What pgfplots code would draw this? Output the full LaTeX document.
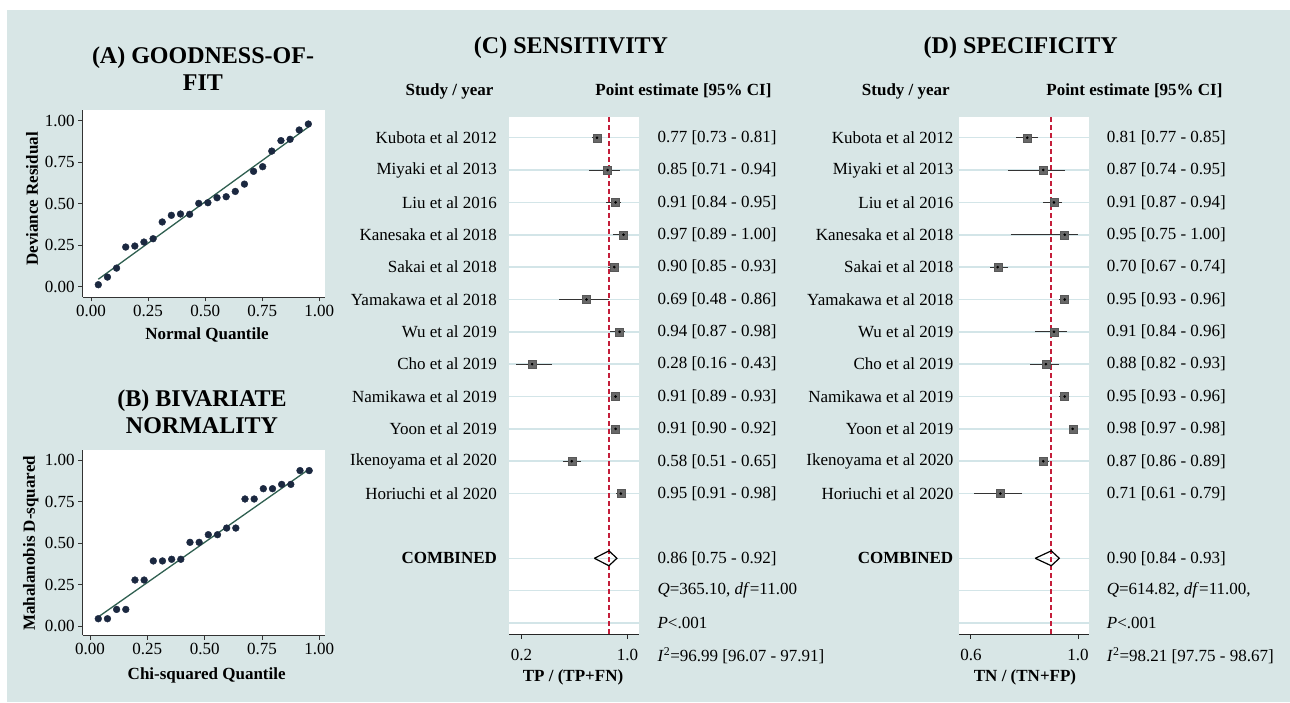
\documentclass[border=0pt]{standalone}
\usepackage{pgfplots}
\pgfplotsset{compat=1.18}
\usepackage{pgfplotstable}
\usepackage{fontspec}
\setmainfont{Liberation Serif}

\definecolor{panelbg}{HTML}{D8E6E6}
\definecolor{navy}{HTML}{1B2840}
\definecolor{fitgreen}{HTML}{2F5F50}
\definecolor{rowgrid}{HTML}{D3E5E8}
\definecolor{boxgray}{HTML}{686868}
\definecolor{refred}{HTML}{C41E3A}

\newcommand{\fs}{\fontsize{17}{20}\selectfont}
\newcommand{\ft}{\fontsize{24}{27}\selectfont\bfseries}

% (A) deviance residual vs normal quantile
\pgfplotstableread{
x y
0.032 0.012
0.072 0.058
0.112 0.112
0.152 0.239
0.192 0.245
0.232 0.269
0.272 0.289
0.312 0.390
0.352 0.430
0.392 0.438
0.432 0.436
0.472 0.502
0.512 0.506
0.552 0.536
0.592 0.542
0.632 0.574
0.672 0.618
0.712 0.695
0.752 0.723
0.792 0.817
0.832 0.880
0.872 0.888
0.912 0.944
0.952 0.980
}\gofdata

% (B) Mahalanobis D-squared vs chi-squared quantile
\pgfplotstableread{
x y
0.036 0.044
0.076 0.044
0.116 0.100
0.156 0.100
0.196 0.277
0.236 0.277
0.276 0.392
0.316 0.392
0.356 0.402
0.396 0.402
0.436 0.504
0.476 0.504
0.516 0.550
0.556 0.550
0.596 0.590
0.636 0.590
0.676 0.765
0.716 0.765
0.756 0.827
0.796 0.827
0.836 0.853
0.876 0.853
0.916 0.936
0.956 0.936
}\normdata

% (C) sensitivity per study
\pgfplotstableread{
row est lo hi
1 0.77 0.73 0.81
2 0.85 0.71 0.94
3 0.91 0.84 0.95
4 0.97 0.89 1.00
5 0.90 0.85 0.93
6 0.69 0.48 0.86
7 0.94 0.87 0.98
8 0.28 0.16 0.43
9 0.91 0.89 0.93
10 0.91 0.90 0.92
11 0.58 0.51 0.65
12 0.95 0.91 0.98
}\sensdata

% (D) specificity per study
\pgfplotstableread{
row est lo hi
1 0.81 0.77 0.85
2 0.87 0.74 0.95
3 0.91 0.87 0.94
4 0.95 0.75 1.00
5 0.70 0.67 0.74
6 0.95 0.93 0.96
7 0.91 0.84 0.96
8 0.88 0.82 0.93
9 0.95 0.93 0.96
10 0.98 0.97 0.98
11 0.87 0.86 0.89
12 0.71 0.61 0.79
}\specdata

\pgfplotsset{
  qqplot/.style={
    scale only axis, width=242.3pt,
    axis lines*=left, axis line style={black!80, line width=0.9pt},
    tick align=outside, major tick length=4.5pt,
    tick style={black!80, line width=0.9pt},
    xtick={0,0.25,0.5,0.75,1}, ytick={0,0.25,0.5,0.75,1},
    ticklabel style={font=\fs},
    /pgf/number format/.cd, fixed, fixed zerofill, precision=2, assume math mode=true,
    /pgfplots/.cd,
    axis background/.style={fill=white},
  },
  forest/.style={
    scale only axis, width=130pt, height=517pt,
    y dir=reverse, ymin=0.36, ymax=16.34,
    axis x line*=bottom, axis y line*=left,
    x axis line style={black!85, line width=1pt},
    y axis line style={draw=none},
    tick align=outside, major tick length=4.5pt,
    xtick style={black!85, line width=1pt},
    ytick style={draw=none},
    ytick={1,2,3,4,5,6,7,8,9,10,11,12,14,15,16},
    ymajorgrids, grid style={rowgrid, line width=1.5pt},
    ticklabel style={font=\fs},
    xticklabel style={yshift=-7pt, /pgf/number format/.cd, fixed, fixed zerofill, precision=1, assume math mode=true},
    axis background/.style={fill=white},
    clip=false,
  },
  boxes/.style={only marks, mark=square*, mark size=4pt,
    mark options={fill=boxgray, draw=boxgray!85!black},
    error bars/.cd, x dir=both, x explicit, error mark=none,
    error bar style={line width=1.1pt, black!80}},
}

\begin{document}
\begin{tikzpicture}
\path[use as bounding box] (0,0) rectangle (1290pt,702pt);
\fill[panelbg] (7pt,0) rectangle (1290pt,692pt);

% ---------- (A) goodness of fit ----------
\begin{axis}[qqplot, at={(82.7pt,405pt)}, anchor=south west, height=187pt,
    xmin=-0.0364, xmax=1.025, ymin=-0.062, ymax=1.0645]
  \addplot[fitgreen, line width=1.3pt] coordinates {(0.032,0.045) (0.952,0.962)};
  \addplot[only marks, mark=*, mark size=3.4pt, navy] table[x=x, y=y] \gofdata;
\end{axis}
\node[align=center, font=\ft] at (203pt,633.5pt) {(A) GOODNESS-OF-\\FIT};
\node[rotate=90, font=\fs\bfseries] at (32pt,503pt) {Deviance Residual};
\node[font=\fs\bfseries] at (207pt,367pt) {Normal Quantile};

% ---------- (B) bivariate normality ----------
\begin{axis}[qqplot, at={(82.7pt,67pt)}, anchor=south west, height=185pt,
    xmin=-0.032, xmax=1.025, ymin=-0.054, ymax=1.060]
  \addplot[fitgreen, line width=1.3pt] coordinates {(0.036,0.055) (0.956,0.945)};
  \addplot[only marks, mark=*, mark size=3.4pt, navy] table[x=x, y=y] \normdata;
\end{axis}
\node[align=center, font=\ft] at (202pt,290.5pt) {(B) BIVARIATE\\NORMALITY};
\node[rotate=90, font=\fs\bfseries] at (30.7pt,158.7pt) {Mahalanobis D-squared};
\node[font=\fs\bfseries] at (206.7pt,27pt) {Chi-squared Quantile};

% ---------- (C) sensitivity ----------
\begin{axis}[forest, at={(509pt,68pt)}, anchor=south west,
    xmin=0.1057, xmax=1.0868, xtick={0.2,1.0},
    yticklabel style={xshift=-4pt},
    yticklabels={Kubota et al 2012, Miyaki et al 2013, Liu et al 2016, Kanesaka et al 2018,
      Sakai et al 2018, Yamakawa et al 2018, Wu et al 2019, Cho et al 2019,
      Namikawa et al 2019, Yoon et al 2019, Ikenoyama et al 2020, Horiuchi et al 2020,
      \textbf{COMBINED}, {}, {}}]
  \addplot[refred, line width=1.6pt, dash pattern=on 5pt off 3pt] coordinates {(0.86,0.36) (0.86,16.34)};
  \addplot[boxes] table[x=est, y=row,
    x error minus expr=\thisrow{est}-\thisrow{lo},
    x error plus expr=\thisrow{hi}-\thisrow{est}] \sensdata;
  \addplot[only marks, mark=*, mark size=1.1pt, black] table[x=est, y=row] \sensdata;
  \addplot[black, line width=1.2pt, line join=miter] coordinates {(0.75,14) (0.86,13.77) (0.92,14) (0.86,14.23) (0.75,14)};
  \node[anchor=west, font=\fs] at (axis cs:1.2,1) {0.77 [0.73 - 0.81]};
  \node[anchor=west, font=\fs] at (axis cs:1.2,2) {0.85 [0.71 - 0.94]};
  \node[anchor=west, font=\fs] at (axis cs:1.2,3) {0.91 [0.84 - 0.95]};
  \node[anchor=west, font=\fs] at (axis cs:1.2,4) {0.97 [0.89 - 1.00]};
  \node[anchor=west, font=\fs] at (axis cs:1.2,5) {0.90 [0.85 - 0.93]};
  \node[anchor=west, font=\fs] at (axis cs:1.2,6) {0.69 [0.48 - 0.86]};
  \node[anchor=west, font=\fs] at (axis cs:1.2,7) {0.94 [0.87 - 0.98]};
  \node[anchor=west, font=\fs] at (axis cs:1.2,8) {0.28 [0.16 - 0.43]};
  \node[anchor=west, font=\fs] at (axis cs:1.2,9) {0.91 [0.89 - 0.93]};
  \node[anchor=west, font=\fs] at (axis cs:1.2,10) {0.91 [0.90 - 0.92]};
  \node[anchor=west, font=\fs] at (axis cs:1.2,11) {0.58 [0.51 - 0.65]};
  \node[anchor=west, font=\fs] at (axis cs:1.2,12) {0.95 [0.91 - 0.98]};
  \node[anchor=west, font=\fs] at (axis cs:1.2,14) {0.86 [0.75 - 0.92]};
  \node[anchor=west, font=\fs] at (axis cs:1.2,15) {\textit{Q}=365.10, \textit{df}=11.00};
  \node[anchor=west, font=\fs] at (axis cs:1.2,16) {\textit{P}<.001};
  \node[anchor=west, font=\fs] at (axis cs:1.2,17) {\textit{I}\textsuperscript{2}=96.99 [96.07 - 97.91]};
\end{axis}
\node[font=\ft] at (571pt,654pt) {(C) SENSITIVITY};
\node[anchor=east, font=\fs\bfseries] at (497pt,611pt) {Study / year};
\node[anchor=east, font=\fs\bfseries] at (775pt,611pt) {Point estimate [95\% CI]};
\node[font=\fs\bfseries] at (573pt,24.5pt) {TP / (TP+FN)};

% ---------- (D) specificity ----------
\begin{axis}[forest, at={(959.3pt,68pt)}, anchor=south west,
    xmin=0.5565, xmax=1.042, xtick={0.6,1.0},
    yticklabel style={xshift=2pt},
    yticklabels={Kubota et al 2012, Miyaki et al 2013, Liu et al 2016, Kanesaka et al 2018,
      Sakai et al 2018, Yamakawa et al 2018, Wu et al 2019, Cho et al 2019,
      Namikawa et al 2019, Yoon et al 2019, Ikenoyama et al 2020, Horiuchi et al 2020,
      \textbf{COMBINED}, {}, {}}]
  \addplot[refred, line width=1.6pt, dash pattern=on 5pt off 3pt] coordinates {(0.90,0.36) (0.90,16.34)};
  \addplot[boxes] table[x=est, y=row,
    x error minus expr=\thisrow{est}-\thisrow{lo},
    x error plus expr=\thisrow{hi}-\thisrow{est}] \specdata;
  \addplot[only marks, mark=*, mark size=1.1pt, black] table[x=est, y=row] \specdata;
  \addplot[black, line width=1.2pt, line join=miter] coordinates {(0.84,14) (0.90,13.77) (0.93,14) (0.90,14.23) (0.84,14)};
  \node[anchor=west, font=\fs] at (axis cs:1.0944,1) {0.81 [0.77 - 0.85]};
  \node[anchor=west, font=\fs] at (axis cs:1.0944,2) {0.87 [0.74 - 0.95]};
  \node[anchor=west, font=\fs] at (axis cs:1.0944,3) {0.91 [0.87 - 0.94]};
  \node[anchor=west, font=\fs] at (axis cs:1.0944,4) {0.95 [0.75 - 1.00]};
  \node[anchor=west, font=\fs] at (axis cs:1.0944,5) {0.70 [0.67 - 0.74]};
  \node[anchor=west, font=\fs] at (axis cs:1.0944,6) {0.95 [0.93 - 0.96]};
  \node[anchor=west, font=\fs] at (axis cs:1.0944,7) {0.91 [0.84 - 0.96]};
  \node[anchor=west, font=\fs] at (axis cs:1.0944,8) {0.88 [0.82 - 0.93]};
  \node[anchor=west, font=\fs] at (axis cs:1.0944,9) {0.95 [0.93 - 0.96]};
  \node[anchor=west, font=\fs] at (axis cs:1.0944,10) {0.98 [0.97 - 0.98]};
  \node[anchor=west, font=\fs] at (axis cs:1.0944,11) {0.87 [0.86 - 0.89]};
  \node[anchor=west, font=\fs] at (axis cs:1.0944,12) {0.71 [0.61 - 0.79]};
  \node[anchor=west, font=\fs] at (axis cs:1.0944,14) {0.90 [0.84 - 0.93]};
  \node[anchor=west, font=\fs] at (axis cs:1.0944,15) {\textit{Q}=614.82, \textit{df}=11.00,};
  \node[anchor=west, font=\fs] at (axis cs:1.0944,16) {\textit{P}<.001};
  \node[anchor=west, font=\fs] at (axis cs:1.0944,17) {\textit{I}\textsuperscript{2}=98.21 [97.75 - 98.67]};
\end{axis}
\node[font=\ft] at (1020.7pt,654pt) {(D) SPECIFICITY};
\node[anchor=east, font=\fs\bfseries] at (953.3pt,611pt) {Study / year};
\node[anchor=east, font=\fs\bfseries] at (1226pt,611pt) {Point estimate [95\% CI]};
\node[font=\fs\bfseries] at (1025pt,24.5pt) {TN / (TN+FP)};
\end{tikzpicture}
\end{document}
